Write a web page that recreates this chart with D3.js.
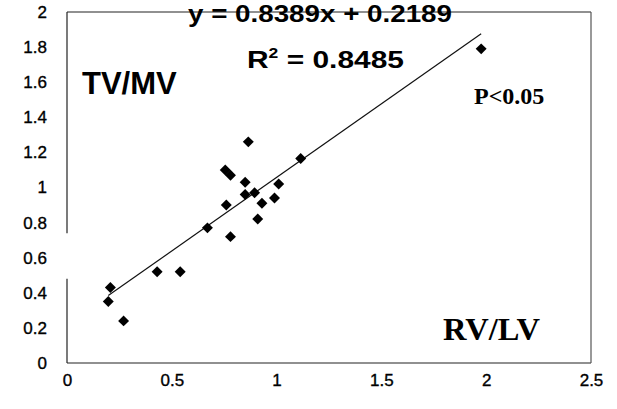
<!DOCTYPE html>
<meta charset="utf-8">
<title>TV/MV vs RV/LV</title>
<style>
  html, body { margin: 0; padding: 0; background: #fff; }
  svg { display: block; }
  .tick text { font: 17px 'Liberation Sans', Arial, sans-serif; fill: #000; stroke: #000; stroke-width: 0.35px; }
  .frame { stroke: #222; stroke-width: 1.2px; }
  .trend { stroke: #111; stroke-width: 1.2px; }
  .dot { fill: #000; }
  .sans { font-family: 'Liberation Sans', Arial, sans-serif; font-weight: bold; fill: #000; }
  .serif { font-family: 'Liberation Serif', 'Times New Roman', serif; font-weight: bold; fill: #000; }
</style>
<svg id="chart"></svg>
<script src="https://cdn.jsdelivr.net/npm/d3@7/dist/d3.min.js"></script>
<script>
  /* global d3 */
  'use strict'
  // values
  const rvlv = [0.207, 0.197, 0.27, 0.43, 0.54, 0.67, 0.76, 0.78, 0.755, 0.78,
    0.865, 0.85, 0.85, 0.895, 0.93, 0.91, 0.99, 1.01, 1.115, 1.976]
  const tvmv = [0.43, 0.35, 0.24, 0.52, 0.52, 0.77, 0.90, 0.72, 1.10, 1.07,
    1.26, 1.03, 0.96, 0.97, 0.91, 0.82, 0.94, 1.02, 1.165, 1.79]
  const xTicks = [0, 0.5, 1, 1.5, 2, 2.5]
  const yTicks = [0, 0.2, 0.4, 0.6, 0.8, 1, 1.2, 1.4, 1.6, 1.8, 2]
  const slope = 0.8389
  const intercept = 0.2189
  const r2 = 0.8485

  const W = 617, H = 409
  const margin = { top: 12, right: 26, bottom: 46, left: 67 }
  const width = W - margin.left - margin.right
  const height = H - margin.top - margin.bottom

  const svg = d3.select('#chart').attr('width', W).attr('height', H)
  const g = svg.append('g').attr('transform', `translate(${margin.left},${margin.top})`)

  const x = d3.scaleLinear().domain([0, 2.5]).range([0, width])
  const y = d3.scaleLinear().domain([0, 2]).range([height, 0])

  // plot frame; the scan lost a piece of the left edge
  const frame = g.append('g')
  frame.append('line').attr('class', 'frame')
    .attr('x1', 0).attr('x2', width).attr('y1', 0).attr('y2', 0)
  frame.append('line').attr('class', 'frame')
    .attr('x1', 0).attr('x2', width).attr('y1', height).attr('y2', height)
  frame.append('line').attr('class', 'frame')
    .attr('x1', width).attr('x2', width).attr('y1', 0).attr('y2', height)
    .style('stroke', '#555')
  frame.append('line').attr('class', 'frame')
    .attr('x1', 0).attr('x2', 0).attr('y1', 0).attr('y2', y(0.74))
  frame.append('line').attr('class', 'frame')
    .attr('x1', 0).attr('x2', 0).attr('y1', y(0.48)).attr('y2', height)

  const yAxis = g.append('g')
    .call(d3.axisLeft(y).tickValues(yTicks).tickSize(0).tickPadding(20).tickFormat(d => String(d)))
  const xAxis = g.append('g').attr('transform', `translate(0,${height})`)
    .call(d3.axisBottom(x).tickValues(xTicks).tickSize(0).tickPadding(11).tickFormat(d => String(d)))
  yAxis.select('.domain').remove()
  xAxis.select('.domain').remove()

  // linear trend over the range of the data
  const [x0, x1] = d3.extent(rvlv)
  g.append('line').attr('class', 'trend')
    .attr('x1', x(x0)).attr('y1', y(slope * x0 + intercept))
    .attr('x2', x(x1)).attr('y2', y(slope * x1 + intercept))

  const diamond = d3.symbol(d3.symbolSquare, 60)
  g.selectAll('.dot')
    .data(rvlv.map((v, i) => [v, tvmv[i]]))
    .enter().append('path')
    .attr('class', 'dot')
    .attr('d', diamond)
    .attr('transform', d => `translate(${x(d[0])},${y(d[1])}) rotate(45)`)

  g.append('text').attr('class', 'sans')
    .attr('x', 121).attr('y', 10)
    .attr('textLength', 264).attr('lengthAdjust', 'spacingAndGlyphs')
    .style('font-size', '24px')
    .text(`y = ${slope}x + ${intercept}`)

  const rt = g.append('text').attr('class', 'sans')
    .attr('x', 180).attr('y', 56)
    .attr('textLength', 157).attr('lengthAdjust', 'spacingAndGlyphs')
    .style('font-size', '24px')
  rt.append('tspan').text('R')
  rt.append('tspan').attr('dy', -10).style('font-size', '14px').text('2')
  rt.append('tspan').attr('dy', 10).text(` = ${r2}`)

  g.append('text').attr('class', 'sans')
    .attr('x', 15).attr('y', 82)
    .style('font-size', '31px')
    .text('TV/MV')

  g.append('text').attr('class', 'serif')
    .attr('x', 407).attr('y', 92)
    .style('font-size', '24px')
    .text('P<0.05')

  g.append('text').attr('class', 'serif')
    .attr('x', 376).attr('y', 328)
    .attr('textLength', 97).attr('lengthAdjust', 'spacingAndGlyphs')
    .style('font-size', '31px')
    .text('RV/LV')
</script>
